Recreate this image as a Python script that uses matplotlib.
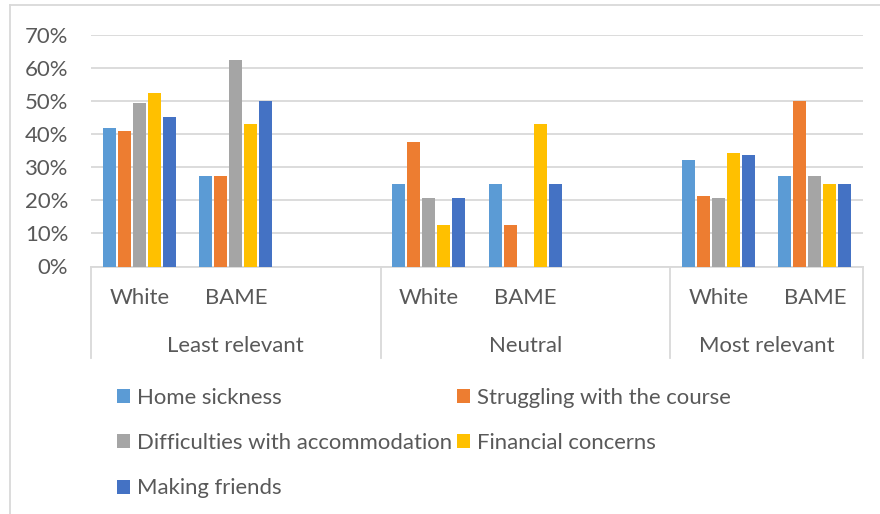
import matplotlib
matplotlib.use("Agg")
import matplotlib.pyplot as plt
from matplotlib.lines import Line2D
import matplotlib.transforms as mtransforms
import numpy as np

plt.rcParams['font.family'] = ['Lato', 'DejaVu Sans']

major_groups = ["Least relevant", "Neutral", "Most relevant"]
minor_labels = ["White", "BAME", "", "White", "BAME", "", "White", "BAME"]
group_spans = [(0, 3), (3, 6), (6, 8)]   # slot ranges for each major group

series_names = ["Home sickness", "Struggling with the course",
                "Difficulties with accommodation", "Financial concerns",
                "Making friends"]
colors = ["#5B9BD5", "#ED7D31", "#A5A5A5", "#FFC000", "#4472C4"]

# values per slot (None = empty slot)
home_sickness = [0.418, 0.273, None, 0.25, 0.25, None, 0.321, 0.273]
struggling    = [0.409, 0.273, None, 0.375, 0.125, None, 0.212, 0.50]
accommodation = [0.494, 0.625, None, 0.208, 0.0, None, 0.207, 0.273]
financial     = [0.524, 0.429, None, 0.125, 0.429, None, 0.344, 0.25]
friends       = [0.450, 0.50, None, 0.208, 0.25, None, 0.337, 0.25]
all_series = [home_sickness, struggling, accommodation, financial, friends]

text_color = "#595959"
grid_color = "#D9D9D9"
fs = 15.9

fig = plt.figure(figsize=(8.8, 5.14), dpi=100)
W, H = 880, 514
left, right, top, bottom = 91, 863, 34.7, 266.5
ax = fig.add_axes([left / W, 1 - bottom / H, (right - left) / W, (bottom - top) / H])

n = len(minor_labels)
x = np.arange(n)
step = 0.155
width = 0.132
handles = []
for i, (vals, c, name) in enumerate(zip(all_series, colors, series_names)):
    xs = [xi + (i - 2) * step for xi, v in zip(x, vals) if v is not None]
    ys = [v for v in vals if v is not None]
    b = ax.bar(xs, ys, width=width, color=c, edgecolor='none', zorder=3, label=name)
    handles.append(b)

ax.set_xlim(-0.5, n - 0.5)
ax.set_ylim(0, 0.7)
ticks = np.arange(0, 0.71, 0.1)
ax.set_yticks(ticks)
ax.set_yticklabels([f"{int(round(t*100))}%" for t in ticks])
ax.tick_params(axis='y', length=0, pad=16.5, labelsize=fs, labelcolor=text_color)
ax.tick_params(axis='x', length=0, labelbottom=False)
ax.yaxis.grid(True, color=grid_color, linewidth=1.3, zorder=0)
ax.set_axisbelow(True)
for s in ['left', 'right', 'top']:
    ax.spines[s].set_visible(False)
ax.spines['bottom'].set_color(grid_color)
ax.spines['bottom'].set_linewidth(1.3)

ax_h = bottom - top
trans = mtransforms.blended_transform_factory(ax.transData, ax.transAxes)
sep_bottom = -(358 - bottom) / ax_h
minor_y = -(298 - bottom) / ax_h
major_y = -(346 - bottom) / ax_h

# separators between major groups
edges = sorted(set([s for s, e in group_spans] + [e for s, e in group_spans]))
for e in edges:
    ax.plot([e - 0.5, e - 0.5], [0, sep_bottom], transform=trans, color=grid_color,
            linewidth=1.3, clip_on=False)

for xi, lab in zip(x, minor_labels):
    if lab:
        ax.text(xi, minor_y, lab, transform=trans, ha='center', va='center',
                fontsize=fs, color=text_color)
for name, (s, e) in zip(major_groups, group_spans):
    ax.text((s + e - 1) / 2, major_y, name, transform=trans, ha='center', va='center',
            fontsize=fs, color=text_color)

# legend (row-major order in 2 columns)
order = [0, 2, 4, 1, 3]
leg = fig.legend([handles[i] for i in order], [series_names[i] for i in order],
                 ncol=2, loc='upper left', bbox_to_anchor=(117 / W, 1 - 388 / H),
                 frameon=False, fontsize=fs, labelcolor=text_color,
                 handlelength=0.6, handleheight=0.6, handletextpad=0.3,
                 columnspacing=0.22, labelspacing=1.14, borderaxespad=0, borderpad=0)

# outer border
fig.add_artist(Line2D([10 / W, 1], [1 - 5 / H, 1 - 5 / H], color=grid_color, linewidth=1.3))
fig.add_artist(Line2D([10 / W, 10 / W], [0, 1 - 5 / H], color=grid_color, linewidth=1.3))

fig.savefig("out.png", dpi=100)
